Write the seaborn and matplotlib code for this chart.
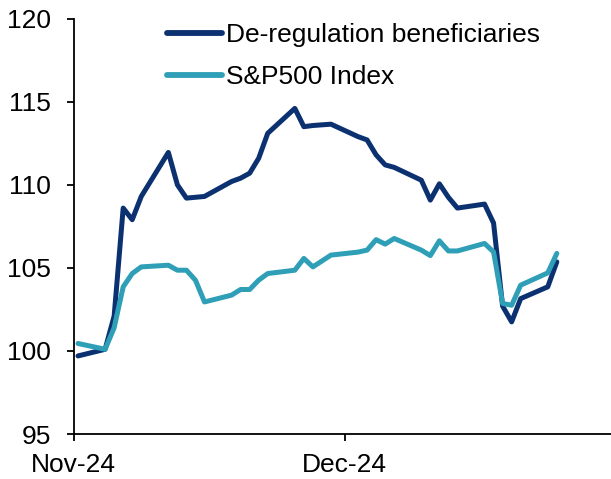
import matplotlib
matplotlib.use("Agg")
import matplotlib.pyplot as plt
import matplotlib.dates as mdates
import seaborn as sns
import pandas as pd
import numpy as np

dates = ["2024-11-01", "2024-11-04", "2024-11-05", "2024-11-06", "2024-11-07", "2024-11-08",
         "2024-11-11", "2024-11-12", "2024-11-13", "2024-11-14", "2024-11-15",
         "2024-11-18", "2024-11-19", "2024-11-20", "2024-11-21", "2024-11-22",
         "2024-11-25", "2024-11-26", "2024-11-27", "2024-11-29",
         "2024-12-02", "2024-12-03", "2024-12-04", "2024-12-05", "2024-12-06",
         "2024-12-09", "2024-12-10", "2024-12-11", "2024-12-12", "2024-12-13",
         "2024-12-16", "2024-12-17", "2024-12-18", "2024-12-19", "2024-12-20",
         "2024-12-23", "2024-12-24"]

dereg = [99.7, 100.1, 102.1, 108.6, 107.9, 109.3,
         111.95, 110.0, 109.2, 109.25, 109.3,
         110.2, 110.4, 110.7, 111.6, 113.1,
         114.6, 113.5, 113.57, 113.65,
         112.9, 112.7, 111.8, 111.2, 111.05,
         110.28, 109.08, 110.06, 109.25, 108.6,
         108.84, 107.7, 102.7, 101.75, 103.15,
         103.86, 105.36]

spx = [100.45, 100.1, 101.4, 103.86, 104.66, 105.06,
       105.16, 104.86, 104.86, 104.26, 102.95,
       103.36, 103.7, 103.7, 104.26, 104.66,
       104.86, 105.57, 105.06, 105.77,
       105.95, 106.07, 106.7, 106.43, 106.77,
       106.07, 105.74, 106.63, 106.02, 106.02,
       106.47, 105.96, 102.86, 102.75, 103.96,
       104.7, 105.87]

series_names = ["De-regulation beneficiaries", "S&P500 Index"]
colors = ["#0B3170", "#2E9FB6"]

sns.set_theme(style="white")
plt.rcParams['font.family'] = ['Liberation Sans', 'DejaVu Sans']
plt.rcParams['text.color'] = 'black'

# place each daily point in the middle of its day (Excel-style date axis)
d = pd.to_datetime(dates) + pd.Timedelta(hours=12)
df = pd.concat([
    pd.DataFrame({"date": d, "value": dereg, "series": series_names[0]}),
    pd.DataFrame({"date": d, "value": spx, "series": series_names[1]}),
])

fig = plt.figure(figsize=(6.11, 4.79), dpi=100)
ax = fig.add_axes([0.1203, 0.0939, 0.8797, 0.8671])

sns.lineplot(data=df, x="date", y="value", hue="series", palette=colors,
             linewidth=3.6, ax=ax, legend=True)
for ln in ax.get_lines():
    ln.set_solid_joinstyle("round")
    ln.set_solid_capstyle("round")

ax.set_xlim(pd.Timestamp("2024-11-01"), pd.Timestamp("2024-12-30 12:00"))
ax.set_ylim(95, 120)
ax.set_yticks([95, 100, 105, 110, 115, 120])
ax.set_xticks([pd.Timestamp("2024-11-01"), pd.Timestamp("2024-12-01")])
ax.xaxis.set_major_formatter(mdates.DateFormatter("%b-%y"))
ax.set_xlabel("")
ax.set_ylabel("")

for s in ["top", "right"]:
    ax.spines[s].set_visible(False)
for s in ["left", "bottom"]:
    ax.spines[s].set_color("black")
    ax.spines[s].set_linewidth(1.3)

ax.tick_params(axis="both", which="major", direction="out", length=5, width=1.3,
               color="black", labelsize=19, labelcolor="black")
ax.tick_params(axis="y", pad=11)
ax.tick_params(axis="x", pad=9)
ax.tick_params(left=True, bottom=True)

leg = ax.legend(loc="upper left", bbox_to_anchor=(0.174, 0.99), frameon=False,
                fontsize=19, handlelength=2.1, handletextpad=0.15, labelspacing=0.68,
                borderpad=0, borderaxespad=0)
for h in leg.get_lines():
    h.set_linewidth(4.2)

fig.savefig("out.png", dpi=100)
